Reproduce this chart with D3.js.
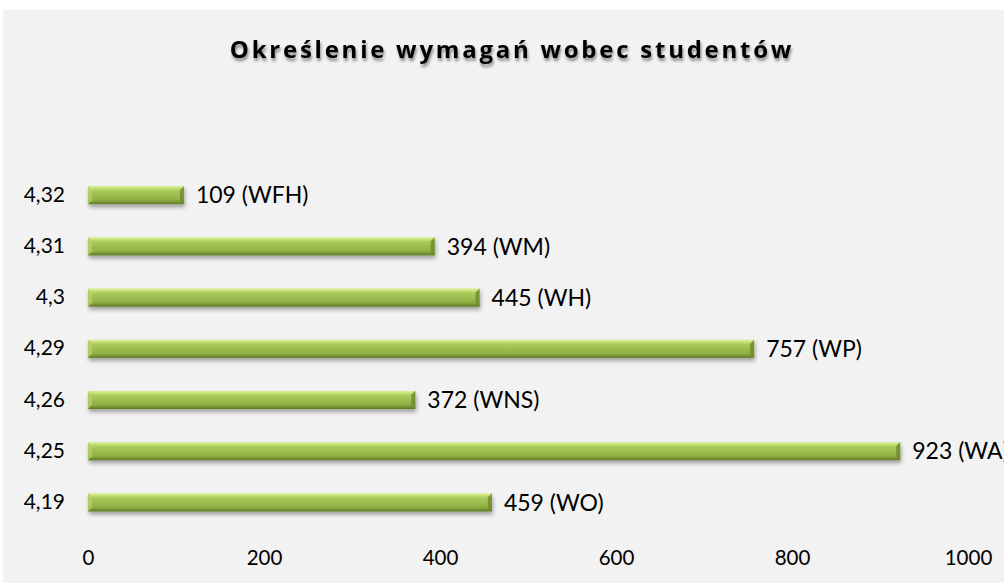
<!DOCTYPE html>
<html><head><meta charset="utf-8">
<script src="https://cdn.jsdelivr.net/npm/d3@7"></script>
<style>
html,body{margin:0;padding:0;background:#fff;}
svg{display:block;}
text{font-family:Lato,"Open Sans",sans-serif;fill:#000;}
</style></head>
<body>
<script>
const categories = ["4,32","4,31","4,3","4,29","4,26","4,25","4,19"];
const values = [109,394,445,757,372,923,459];
const units = ["WFH","WM","WH","WP","WNS","WA","WO"];
const xTicks = [0,200,400,600,800,1000];
const title = "Określenie wymagań wobec studentów";

const W=1004,H=583;
const svg=d3.select("body").append("svg").attr("width",W).attr("height",H);
const defs=svg.append("defs");
const g1=defs.append("linearGradient").attr("id","barg").attr("x1",0).attr("y1",0).attr("x2",0).attr("y2",1);
[[0,"#dcef98"],[0.12,"#c8e27a"],[0.25,"#abcb5c"],[0.5,"#9dbd4f"],[0.75,"#91b045"],[0.85,"#7e9c38"],[1,"#5f7a24"]].forEach(s=>g1.append("stop").attr("offset",s[0]).attr("stop-color",s[1]));
const f=defs.append("filter").attr("id","sh").attr("x","-10%").attr("y","-30%").attr("width","120%").attr("height","180%");
f.append("feGaussianBlur").attr("in","SourceAlpha").attr("stdDeviation",2.2);
f.append("feOffset").attr("dx",1).attr("dy",3).attr("result","ob");
f.append("feComponentTransfer").append("feFuncA").attr("type","linear").attr("slope",0.35);
const fm=f.append("feMerge");fm.append("feMergeNode");fm.append("feMergeNode").attr("in","SourceGraphic");
const tf=defs.append("filter").attr("id","tsh").attr("x","-5%").attr("y","-30%").attr("width","110%").attr("height","180%");
tf.append("feGaussianBlur").attr("in","SourceAlpha").attr("stdDeviation",1.5);
tf.append("feOffset").attr("dx",1).attr("dy",2.5);
tf.append("feComponentTransfer").append("feFuncA").attr("type","linear").attr("slope",0.45);
const tm=tf.append("feMerge");tm.append("feMergeNode");tm.append("feMergeNode").attr("in","SourceGraphic");

svg.append("rect").attr("x",3).attr("y",10).attr("width",W-3).attr("height",H-10).attr("fill","#f2f2f2");

svg.append("text").attr("x",512).attr("y",58).attr("text-anchor","middle")
  .attr("font-size",24).attr("font-weight","bold").attr("letter-spacing",2.75)
  .attr("filter","url(#tsh)").style("font-family","'Open Sans',Lato,sans-serif").text(title);

const x=d3.scaleLinear().domain([0,1000]).range([88,968]);
const y=d3.scaleBand().domain(categories).range([169.5,528]).paddingInner(0.645).paddingOuter(0.3225);

const xAxis=svg.append("g").attr("transform","translate(0,528)").call(d3.axisBottom(x).tickValues(xTicks).tickSize(0).tickPadding(22).tickFormat(d3.format("d")));
xAxis.select(".domain").remove();
xAxis.selectAll("text").attr("font-size",20.5).style("font-family","Lato,sans-serif");

const yAxis=svg.append("g").attr("transform","translate(88,0)").call(d3.axisLeft(y).tickSize(0).tickPadding(23));
yAxis.select(".domain").remove();
yAxis.selectAll("text").attr("font-size",21).style("font-family","Lato,sans-serif");

const bars=svg.append("g").selectAll("g").data(values).join("g")
 .attr("transform",(d,i)=>`translate(${x(0)},${y(categories[i])})`);
const bh=y.bandwidth(), bev=4;
bars.append("rect").attr("width",d=>x(d)-x(0)).attr("height",bh).attr("fill","url(#barg)").attr("filter","url(#sh)");
bars.append("path").attr("d",d=>`M0,0L${bev},${bev}L${bev},${bh-bev}L0,${bh}Z`).attr("fill","#b5d06a").attr("opacity",0.8);
bars.append("path").attr("d",d=>{const w=x(d)-x(0);return `M${w},0L${w-bev},${bev}L${w-bev},${bh-bev}L${w},${bh}Z`;}).attr("fill","#6f8c30").attr("opacity",0.85);

svg.append("g").selectAll("text").data(values).join("text")
 .attr("x",d=>x(d)+12).attr("y",(d,i)=>y(categories[i])+bh/2).attr("dy","0.36em")
 .attr("font-size",23).style("font-family","Lato,sans-serif")
 .text((d,i)=>`${d} (${units[i]})`);
</script>
</body></html>
